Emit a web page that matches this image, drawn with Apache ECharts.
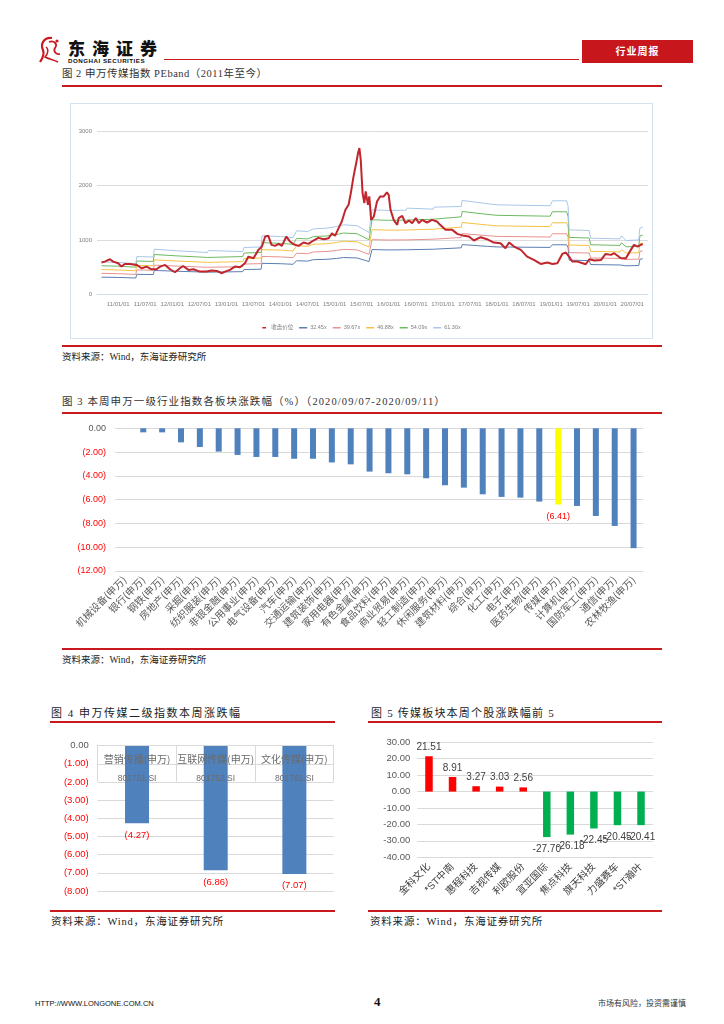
<!DOCTYPE html>
<html><head><meta charset="utf-8">
<script src="https://cdn.jsdelivr.net/npm/echarts@6.0.0/dist/echarts.min.js"></script>
<style>
body{margin:0;background:#fff;}
#page{position:relative;width:724px;height:1024px;overflow:hidden;background:#fff;font-family:"Liberation Serif","Noto Sans CJK SC",serif;color:#222;}
.t{position:absolute;white-space:nowrap;line-height:12px;}
.rl{position:absolute;background:#C9191E;}
.ch{position:absolute;}
</style></head>
<body><div id="page">
<!-- header -->
<svg class="ch" style="left:36px;top:35px" width="32" height="30" viewBox="0 0 32 30">
<path d="M16 3 C8 2 4 9 7 15 C9 20 6 24 4 27" stroke="#C9191E" stroke-width="2.2" fill="none"/>
<path d="M13 7 C18 5 22 9 19 13 C17 16 20 20 24 19" stroke="#C9191E" stroke-width="1.8" fill="none"/>
<path d="M10 12 C13 14 12 19 9 22 C13 24 18 25 22 27" stroke="#C9191E" stroke-width="1.5" fill="none"/>
<circle cx="21" cy="6" r="1.6" fill="#C9191E"/>
</svg>
<div class="t" style="left:68px;top:39px;font-size:17px;line-height:18px;font-weight:900;letter-spacing:7px;font-family:'Noto Sans CJK SC';color:#111;">东海证券</div>
<div class="t" style="left:68px;top:57px;font-size:6.2px;line-height:7px;font-weight:bold;letter-spacing:0.5px;font-family:'Liberation Sans';color:#111;">DONGHAI SECURITIES</div>
<div class="rl" style="left:164px;top:59px;width:415px;height:1px;"></div>
<div class="rl" style="left:582px;top:40px;width:111px;height:23px;background:#C8161D;"></div>
<div class="t" style="left:582px;top:45px;width:111px;text-align:center;color:#fff;font-size:10px;font-weight:bold;font-family:'Noto Sans CJK SC';letter-spacing:1px;">行业周报</div>

<!-- fig 2 -->
<div class="t" style="left:62px;top:68px;font-size:10.5px;color:#333;letter-spacing:0.5px;">图 2 申万传媒指数 PEband（2011年至今）</div>
<div class="rl" style="left:62px;top:85px;width:600px;height:2px;"></div>
<div class="ch" style="left:70px;top:103px;width:581px;height:234px;border:1px solid #d4e1ee;"></div>
<div id="c2" class="ch" style="left:70px;top:104px;width:583px;height:235px;"></div>
<div class="rl" style="left:62px;top:345px;width:600px;height:2px;"></div>
<div class="t" style="left:62px;top:351px;font-size:9.5px;color:#222;">资料来源：Wind，东海证券研究所</div>

<!-- fig 3 -->
<div class="t" style="left:62px;top:396px;font-size:10.5px;color:#333;letter-spacing:1.1px;">图 3 本周申万一级行业指数各板块涨跌幅（%）（2020/09/07-2020/09/11）</div>
<div class="rl" style="left:62px;top:412px;width:600px;height:2px;"></div>
<div id="c3" class="ch" style="left:55px;top:415px;width:610px;height:232px;"></div>
<div class="rl" style="left:62px;top:648px;width:600px;height:2px;"></div>
<div class="t" style="left:62px;top:654px;font-size:9.5px;color:#222;">资料来源：Wind，东海证券研究所</div>

<!-- fig 4 -->
<div class="t" style="left:51px;top:707px;font-size:11px;color:#222;letter-spacing:1.5px;">图 4 申万传媒二级指数本周涨跌幅</div>
<div class="rl" style="left:50px;top:721px;width:285px;height:2px;"></div>
<div id="c4" class="ch" style="left:50px;top:725px;width:290px;height:184px;"></div>
<div class="rl" style="left:50px;top:910px;width:285px;height:2px;"></div>
<div class="t" style="left:51px;top:916px;font-size:10.5px;color:#222;letter-spacing:0.8px;">资料来源：Wind，东海证券研究所</div>

<!-- fig 5 -->
<div class="t" style="left:371px;top:707px;font-size:11px;color:#222;letter-spacing:1.2px;">图 5 传媒板块本周个股涨跌幅前 5</div>
<div class="rl" style="left:368px;top:721px;width:294px;height:2px;"></div>
<div id="c5" class="ch" style="left:365px;top:725px;width:297px;height:185px;"></div>
<div class="rl" style="left:368px;top:910px;width:294px;height:2px;"></div>
<div class="t" style="left:370px;top:916px;font-size:10.5px;color:#222;letter-spacing:0.8px;">资料来源：Wind，东海证券研究所</div>

<!-- footer -->
<div class="t" style="left:35px;top:998px;font-size:7.5px;font-family:'Liberation Sans';color:#111;">HTTP://WWW.LONGONE.COM.CN</div>
<div class="t" style="left:374px;top:996px;font-size:13px;font-weight:bold;color:#111;">4</div>
<div class="t" style="left:598px;top:998px;font-size:8px;color:#333;">市场有风险，投资需谨慎</div>
</div>
<script>
// ---------- Figure 2 data: PE band ----------
const bandDates = ['2010-09-10','2010-12-28','2011-01-05','2011-04-28','2011-05-05','2011-08-25','2011-09-01','2012-02-01','2012-08-25','2012-09-01','2013-04-20','2013-04-28','2013-08-22','2013-08-28','2014-01-01','2014-03-25','2014-04-18','2014-07-01','2014-08-10','2014-11-10','2015-01-15','2015-03-01','2015-06-01','2015-08-20','2015-09-10','2016-01-01','2016-04-28','2016-05-03','2016-10-28','2016-11-03','2017-05-03','2017-05-10','2017-11-01','2018-01-01','2018-12-25','2019-01-10','2019-04-15','2019-04-25','2019-05-01','2019-09-15','2019-09-25','2020-04-10','2020-04-20','2020-05-20','2020-08-15','2020-08-22','2020-09-11'];
const pe3245 = [315,310,302,299,367,363,438,424,406,426,416,455,461,569,562,551,617,610,636,643,659,676,667,601,822,815,818,838,828,848,854,913,880,870,861,910,910,854,627,620,546,539,569,523,529,643,653];
const pe3967 = [385,379,369,366,448,443,536,518,496,520,508,556,563,695,687,673,755,746,778,786,806,826,815,734,1004,997,1000,1024,1012,1036,1044,1116,1076,1064,1052,1112,1112,1044,766,758,667,659,695,639,647,786,798];
const pe4688 = [455,447,436,432,530,524,633,612,587,615,600,657,665,821,811,795,892,882,919,929,952,976,964,868,1187,1178,1182,1211,1196,1224,1234,1319,1272,1257,1244,1314,1314,1234,906,896,789,779,821,756,765,929,943];
const pe5409 = [525,516,503,499,611,604,731,706,677,709,693,758,768,948,936,918,1029,1017,1061,1072,1099,1126,1112,1002,1369,1359,1363,1397,1380,1413,1423,1521,1467,1451,1435,1516,1516,1423,1045,1034,910,898,948,872,882,1072,1088];
const pe6130 = [595,585,570,565,693,685,828,800,767,804,785,859,870,1074,1061,1040,1166,1153,1202,1215,1245,1276,1260,1135,1552,1540,1545,1583,1564,1601,1613,1724,1663,1644,1626,1718,1718,1613,1184,1172,1031,1018,1074,988,1000,1215,1233];
const closeDates = ['2010-09-10','2010-10-02','2010-11-06','2010-11-28','2011-01-01','2011-01-23','2011-02-15','2011-03-19','2011-05-04','2011-06-07','2011-07-10','2011-08-13','2011-09-16','2011-10-10','2011-11-13','2011-12-16','2012-01-19','2012-02-22','2012-03-13','2012-04-19','2012-05-22','2012-07-04','2012-08-19','2012-09-22','2012-10-28','2012-12-01','2012-12-22','2013-01-25','2013-02-28','2013-04-01','2013-05-04','2013-05-28','2013-07-01','2013-08-04','2013-08-28','2013-09-19','2013-10-10','2013-11-01','2013-11-25','2013-12-19','2014-01-10','2014-02-10','2014-03-04','2014-03-28','2014-05-01','2014-06-04','2014-07-07','2014-08-10','2014-09-13','2014-10-19','2014-11-22','2014-12-13','2015-01-04','2015-01-28','2015-02-19','2015-03-13','2015-04-04','2015-04-19','2015-05-07','2015-05-25','2015-06-07','2015-06-16','2015-06-25','2015-07-07','2015-07-19','2015-07-28','2015-08-13','2015-08-22','2015-09-04','2015-09-22','2015-10-13','2015-11-04','2015-11-28','2015-12-19','2015-12-31','2016-01-13','2016-02-04','2016-02-28','2016-03-07','2016-04-01','2016-04-22','2016-05-16','2016-06-07','2016-07-01','2016-07-22','2016-08-13','2016-09-16','2016-10-19','2016-11-22','2016-12-13','2017-01-19','2017-03-04','2017-04-07','2017-05-22','2017-06-25','2017-07-28','2017-09-13','2017-10-25','2017-12-10','2018-01-25','2018-02-28','2018-03-22','2018-04-25','2018-06-10','2018-07-22','2018-09-07','2018-10-22','2018-12-07','2019-01-10','2019-02-13','2019-03-16','2019-04-10','2019-05-01','2019-05-22','2019-06-28','2019-08-01','2019-08-22','2019-09-16','2019-10-19','2019-12-04','2020-01-04','2020-02-10','2020-03-01','2020-04-16','2020-05-19','2020-06-22','2020-07-13','2020-08-07','2020-09-11'];
const closeValues = [583,601,644,601,571,509,558,558,540,479,509,460,460,509,540,460,405,479,521,448,460,417,417,436,429,387,417,448,509,497,571,693,663,816,877,1061,1074,908,890,926,890,1061,969,920,890,951,926,988,1037,1012,1031,1123,1074,1215,1337,1552,1644,1859,2166,2411,2595,2687,2472,1859,1675,1890,1644,1798,1368,1429,1706,1798,1798,1871,1828,1552,1368,1276,1399,1442,1307,1356,1307,1399,1307,1368,1319,1368,1337,1276,1184,1184,1110,1074,1061,988,1049,1012,951,939,847,951,877,816,693,632,558,583,558,571,742,767,693,601,601,571,552,644,620,632,742,724,755,663,663,816,908,877,926];
const peTickLabels = ['11/01/01','11/07/01','12/01/01','12/07/01','13/01/01','13/07/01','14/01/01','14/07/01','15/01/01','15/07/01','16/01/01','16/07/01','17/01/01','17/07/01','18/01/01','18/07/01','19/01/01','19/07/01','20/01/01','20/07/01'];
const peLegend = ['收盘价位','32.45x','39.67x','46.88x','54.09x','61.30x'];

// ---------- Figure 3 data ----------
const industries = ['机械设备(申万)','银行(申万)','钢铁(申万)','房地产(申万)','采掘(申万)','纺织服装(申万)','非银金融(申万)','公用事业(申万)','电气设备(申万)','汽车(申万)','交通运输(申万)','建筑装饰(申万)','家用电器(申万)','有色金属(申万)','食品饮料(申万)','商业贸易(申万)','轻工制造(申万)','休闲服务(申万)','建筑材料(申万)','综合(申万)','化工(申万)','电子(申万)','医药生物(申万)','传媒(申万)','计算机(申万)','国防军工(申万)','通信(申万)','农林牧渔(申万)'];
const industryChg = [0,-0.34,-0.34,-1.18,-1.57,-1.96,-2.24,-2.41,-2.41,-2.56,-2.56,-2.87,-3.03,-3.64,-3.78,-3.87,-4.20,-4.79,-4.99,-5.55,-5.77,-5.83,-6.16,-6.41,-6.53,-7.37,-8.21,-10.08];
const highlightIndustry = '传媒(申万)';

// ---------- Figure 4 data ----------
const subIndustries = ['营销传播(申万)','互联网传媒(申万)','文化传媒(申万)'];
const subCodes = ['801751.SI','801752.SI','801761.SI'];
const subChg = [-4.27,-6.86,-7.07];

// ---------- Figure 5 data ----------
const stocks = ['金科文化','*ST中南','惠程科技','吉视传媒','利欧股份','宣亚国际','焦点科技','旗天科技','力盛赛车','*ST瀚叶'];
const stockChg = [21.51,8.91,3.27,3.03,2.56,-27.70,-26.18,-22.45,-20.45,-20.41];

// ---------- helpers ----------
function toMonth(s){const p=s.split('-').map(Number);return (p[0]-2011)*12+(p[1]-1)+(p[2]-1)/30.4;}
function tickToMonth(t){const p=t.split('/').map(Number);return (p[0]-11)*12+(p[1]-1);}
function paren(v){v=Number(v);return v===0?'0.00':(v<0?'('+Math.abs(v).toFixed(2)+')':v.toFixed(2));}
const FONT='"Liberation Sans","Noto Sans CJK SC",sans-serif';

// ---------- Figure 2 ----------
const peTickPos = peTickLabels.map(tickToMonth);
const bands = [
  {name:'32.45x', vals:pe3245, color:'#5B7DB1'},
  {name:'39.67x', vals:pe3967, color:'#E8918F'},
  {name:'46.88x', vals:pe4688, color:'#F5C242'},
  {name:'54.09x', vals:pe5409, color:'#6CB960'},
  {name:'61.30x', vals:pe6130, color:'#A9C7EA'}
];
const c2 = echarts.init(document.getElementById('c2'));
c2.setOption({
  animation:false,
  textStyle:{fontFamily:FONT},
  grid:{left:27,top:27,width:551,height:163.3},
  legend:{top:216,left:'center',itemWidth:8,itemHeight:1.5,itemGap:6,icon:'rect',
    data:peLegend.map((n,i)=>i===0?{name:n,icon:'path://M0,0H10V4H0Z',itemStyle:{color:'#C0262C'}}:{name:n}),
    textStyle:{fontSize:5.5,color:'#808080',fontFamily:FONT,padding:[0,0,0,-2]}},
  xAxis:{type:'value',min:-4.7,max:117.5,splitLine:{show:false},
    axisLine:{show:true,lineStyle:{color:'#d3dfec'}},axisTick:{show:false},
    axisLabel:{customValues:peTickPos,fontSize:6,color:'#808080',margin:7,
      formatter:function(v){const i=peTickPos.indexOf(Math.round(v));return i>=0?peTickLabels[i]:'';}}},
  yAxis:{type:'value',min:0,max:3000,interval:1000,axisLine:{show:false},axisTick:{show:false},
    axisLabel:{fontSize:6,color:'#808080',margin:5,formatter:v=>String(v)},splitLine:{lineStyle:{color:'#dcdcdc'}}},
  series:bands.map(b=>({name:b.name,type:'line',symbol:'none',
      data:bandDates.map((d,i)=>[toMonth(d),b.vals[i]]),
      lineStyle:{width:1,color:b.color},itemStyle:{color:b.color}}))
    .concat([{name:'收盘价位',type:'line',symbol:'none',z:5,
      data:closeDates.map((d,i)=>[toMonth(d),closeValues[i]]),
      lineStyle:{width:2,color:'#C0262C'},itemStyle:{color:'#C0262C'}}])
});

// ---------- Figure 3 ----------
const c3 = echarts.init(document.getElementById('c3'));
c3.setOption({
  animation:false,
  textStyle:{fontFamily:FONT},
  grid:{left:60,top:13.3,width:528,height:142.7},
  xAxis:{type:'category',data:industries,axisLine:{show:false,onZero:false},axisTick:{show:false},
    axisLabel:{interval:0,rotate:45,fontSize:10,color:'#595959',margin:7,fontFamily:'"Noto Sans CJK SC"'}},
  yAxis:{type:'value',min:-12,max:0,interval:2,axisLine:{show:false},axisTick:{show:false},
    splitLine:{lineStyle:{color:'#d9d9d9'}},
    axisLabel:{formatter:paren,fontSize:9,margin:9,color:function(v){return Number(v)<0?'#FF0000':'#595959';}}},
  series:[{type:'bar',barWidth:6,itemStyle:{color:'#4F81BD'},
    data:industryChg.map((v,i)=>industries[i]===highlightIndustry?
      {value:v,itemStyle:{color:'#FFFF00'},label:{show:true,position:'bottom',distance:7,color:'#FF0000',fontSize:9,formatter:p=>paren(p.value)}}:v)}]
});

// ---------- Figure 4 ----------
const c4 = echarts.init(document.getElementById('c4'));
c4.setOption({
  animation:false,
  textStyle:{fontFamily:FONT},
  grid:{left:47.7,top:20.7,width:236,height:145.3},
  xAxis:{type:'category',position:'top',data:subIndustries,z:5,
    axisLine:{show:true,lineStyle:{color:'#d9d9d9'}},
    axisTick:{show:true,inside:true,length:36,lineStyle:{color:'#d9d9d9'}},
    axisLabel:{inside:true,margin:4,interval:0,
      formatter:function(v,i){return '{n|'+v+'}\n{c|'+subCodes[i]+'}';},
      rich:{n:{fontSize:10,lineHeight:19,color:'#6b6b6b',fontFamily:'"Noto Sans CJK SC"'},
            c:{fontSize:8.5,lineHeight:19,color:'#6b6b6b',fontFamily:FONT}}}},
  yAxis:{type:'value',min:-8,max:0,interval:1,axisLine:{show:false},axisTick:{show:false},
    splitLine:{lineStyle:{color:'#d9d9d9'}},
    axisLabel:{formatter:paren,fontSize:9.5,margin:9,color:function(v){return Number(v)<0?'#FF0000':'#595959';}}},
  series:[{type:'bar',barWidth:24,itemStyle:{color:'#4F81BD'},data:subChg,
    label:{show:true,position:'bottom',distance:7,color:'#FF0000',fontSize:9.5,formatter:p=>paren(p.value)}}]
});

// ---------- Figure 5 ----------
const c5 = echarts.init(document.getElementById('c5'));
c5.setOption({
  animation:false,
  textStyle:{fontFamily:FONT},
  grid:{left:52.2,top:17.3,width:235.6,height:115},
  xAxis:{type:'category',data:stocks,axisLine:{show:false,onZero:false},axisTick:{show:false},
    axisLabel:{interval:0,rotate:45,fontSize:10,color:'#404040',margin:8}},
  yAxis:{type:'value',min:-40,max:30,interval:10,axisLine:{show:false},axisTick:{show:false},
    splitLine:{lineStyle:{color:'#d9d9d9'}},
    axisLabel:{formatter:v=>Number(v).toFixed(2),fontSize:9.5,color:'#595959',margin:7}},
  series:[
    {type:'bar',barWidth:7.5,
      data:stockChg.map(v=>({value:v,itemStyle:{color:v>=0?'#FF0000':'#00B050'}}))},
    {type:'custom',z:10,silent:true,
      data:stockChg.map((v,i)=>[i,v]),
      renderItem:function(params,api){
        const v=api.value(1);
        const pt=api.coord([api.value(0),v]);
        return {type:'text',x:pt[0],y:v>=0?pt[1]-4:pt[1]+7,
          style:{text:v.toFixed(2),align:'center',verticalAlign:v>=0?'bottom':'top',
            fill:'#404040',font:'10px "Liberation Sans", sans-serif'}};
      }}
  ]
});
</script>
</body></html>
